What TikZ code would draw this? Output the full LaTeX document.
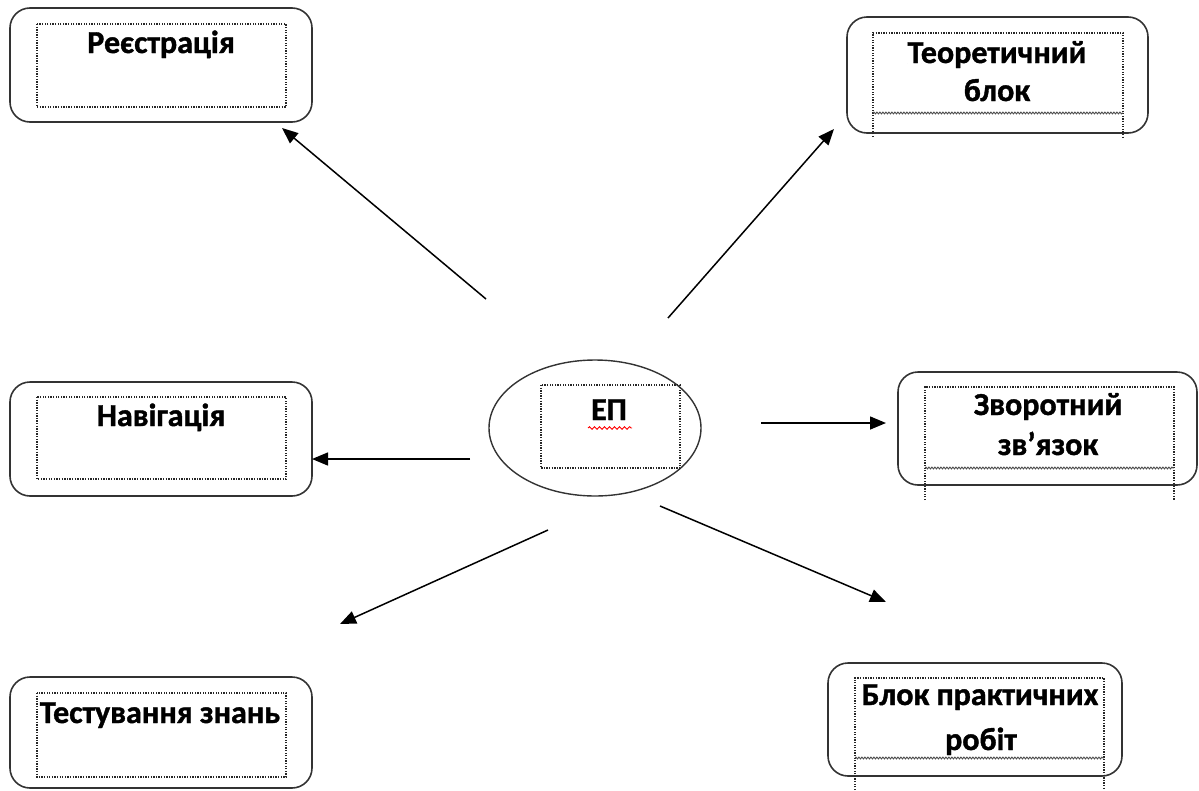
\documentclass[tikz,border=0pt]{standalone}
\usepackage{fontspec}
\setmainfont{Carlito}[BoldFeatures={FakeBold=1.2}]
\usetikzlibrary{shapes.geometric,arrows.meta,decorations.pathmorphing}
\tikzset{
  outerbox/.style={draw=black!80, line width=1.6pt, rounded corners=20pt, inner sep=0pt},
  innerdot/.style={draw=black!85, line width=1.3pt, dash pattern=on 1.3pt off 1.3pt},
  wavyline/.style={draw=black!70, line width=0.9pt, decorate, decoration={snake, amplitude=0.9pt, segment length=3pt}},
  label/.style={font=\fontsize{32}{38}\selectfont\bfseries, anchor=base, inner sep=0pt},
  arr/.style={draw=black, line width=1.5pt, -{Triangle[length=16pt,width=13pt]}},
}
\begin{document}
\begin{tikzpicture}[x=1pt,y=-1pt]
\useasboundingbox (0,0) rectangle (1199,790);
% outer boxes
\node[outerbox, minimum width=302pt, minimum height=114pt] (b1) at (161,65) {};
\node[outerbox, minimum width=301pt, minimum height=116pt] (b2) at (997.5,75) {};
\node[outerbox, minimum width=302pt, minimum height=114pt] (b3) at (161,439) {};
\node[outerbox, minimum width=299pt, minimum height=113pt] (b4) at (1047.5,428.5) {};
\node[outerbox, minimum width=302pt, minimum height=111pt] (b5) at (161,732.5) {};
\node[outerbox, minimum width=294pt, minimum height=113pt] (b6) at (975,719.5) {};
\node[ellipse, draw=black!80, line width=1.4pt, minimum width=212pt, minimum height=136pt, inner sep=0pt] (ep) at (595,428) {};
% inner dotted frames
\draw[innerdot] (37,24) rectangle (286,107);
\draw[innerdot] (37,397) rectangle (286,479);
\draw[innerdot] (37,693) rectangle (286,777);
\draw[innerdot] (541,385) rectangle (680,468);
\draw[innerdot] (873,137) -- (873,33) -- (1123,33) -- (1123,137);
\draw[wavyline] (873,113) -- (1123,113);
\draw[innerdot] (925,500) -- (925,387) -- (1174,387) -- (1174,500);
\draw[wavyline] (925,468) -- (1174,468);
\draw[innerdot] (855,790) -- (855,678) -- (1104,678) -- (1104,790);
\draw[wavyline] (855,758) -- (1104,758);
% texts
\node[label] (t1) at (161,53) {Реєстрація};
\node[label] (t2a) at (997,63) {Теоретичний};
\node[label] (t2b) at (997,101) {блок};
\node[label] (t3) at (161,426) {Навігація};
\node[label] (t4a) at (1048,415) {Зворотний};
\node[label] (t4b) at (1048,455) {зв’язок};
\node[label] (t5) at (160,723) {Тестування знань};
\node[label] (t6a) at (980,705) {Блок практичних};
\node[label] (t6b) at (981,750) {робіт};
\node[label] (tep) at (609,420) {ЕП};
\draw[red, line width=0.9pt, decorate, decoration={snake, amplitude=1.3pt, segment length=5pt}] (588,428) -- (632,428);
% arrow ends
\coordinate (s1) at (486,299);  \coordinate (e1) at (282,128);
\coordinate (s2) at (668,318);  \coordinate (e2) at (834,129);
\coordinate (s3) at (761,423);  \coordinate (e3) at (886,423);
\coordinate (s4) at (470,459);  \coordinate (e4) at (312,459);
\coordinate (s5) at (548,530);  \coordinate (e5) at (340,624);
\coordinate (s6) at (660,506);  \coordinate (e6) at (886,602);
\draw[arr] (s1) -- (e1);
\draw[arr] (s2) -- (e2);
\draw[arr] (s3) -- (e3);
\draw[arr] (s4) -- (e4);
\draw[arr] (s5) -- (e5);
\draw[arr] (s6) -- (e6);
\end{tikzpicture}
\end{document}
